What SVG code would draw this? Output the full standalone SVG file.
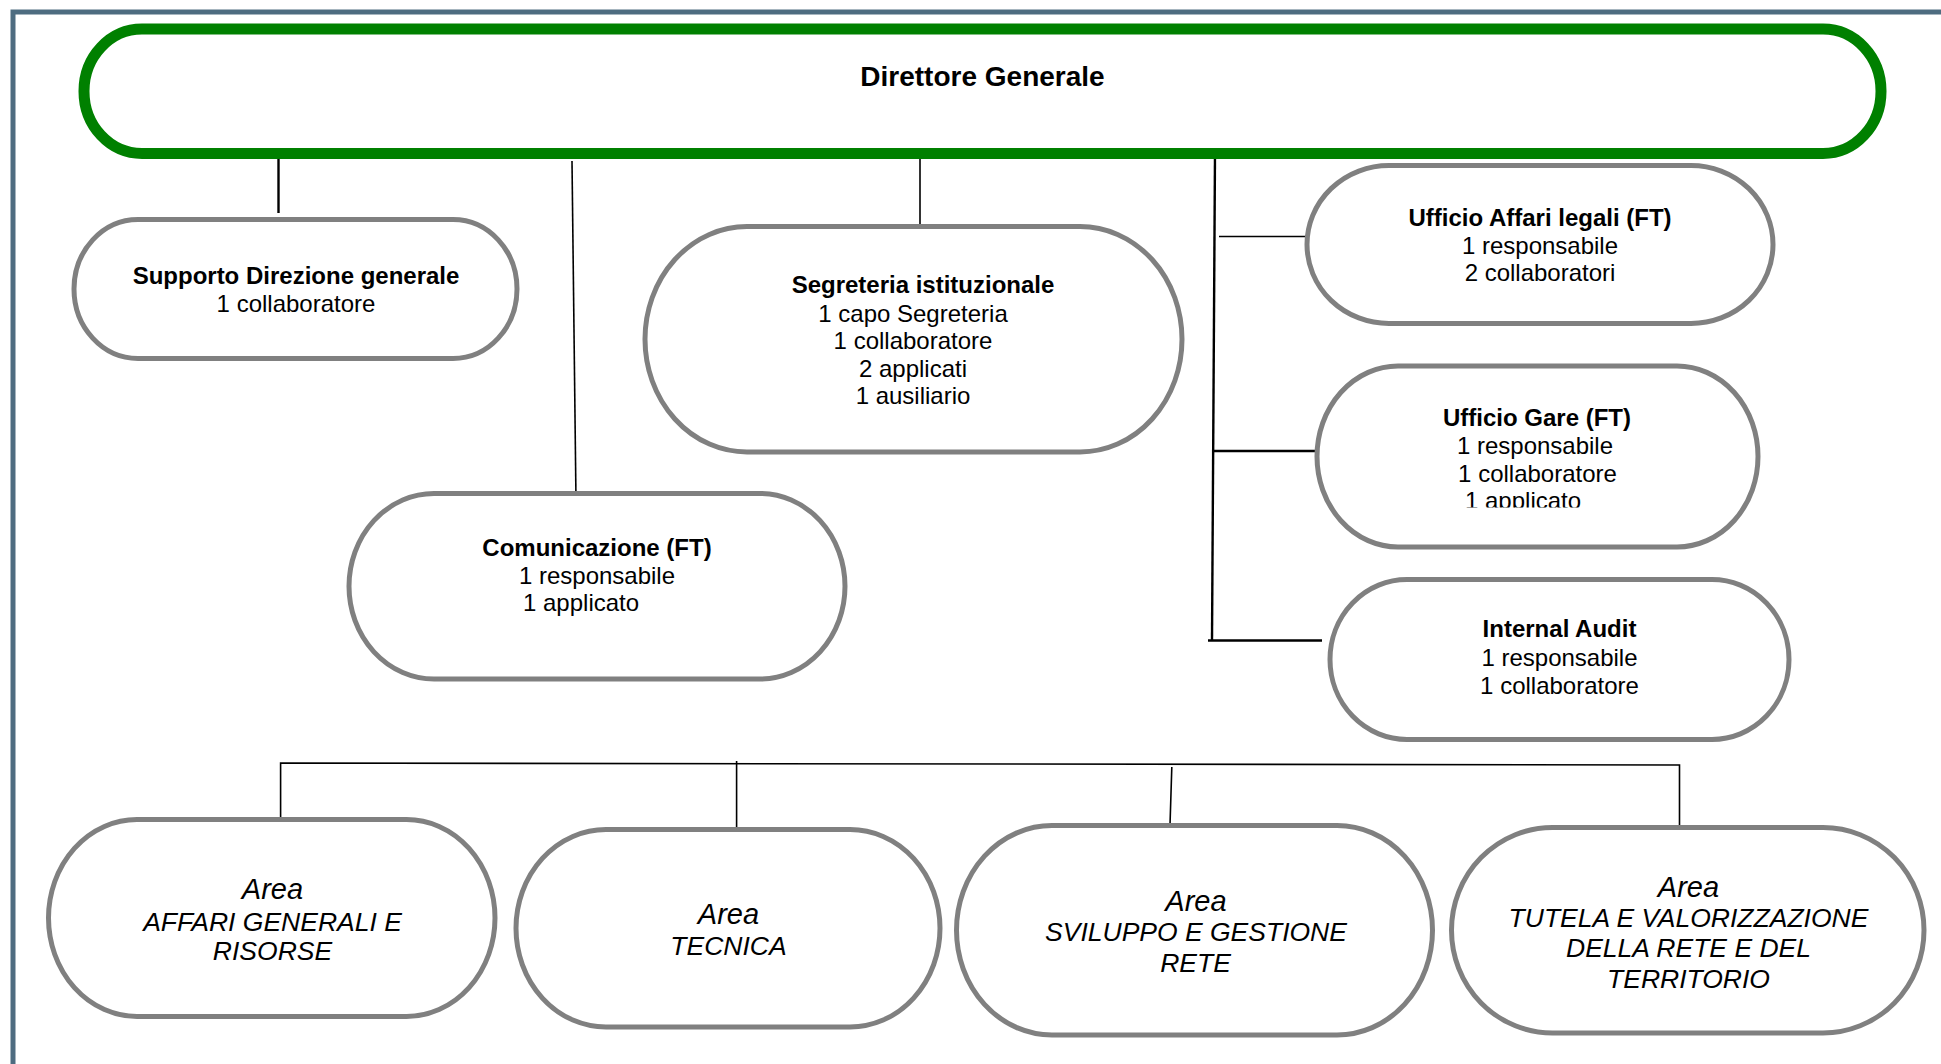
<svg xmlns="http://www.w3.org/2000/svg" width="1941" height="1064" viewBox="0 0 1941 1064">
<style>
.box{fill:#fff;stroke:#808080;stroke-width:5}
.dg{fill:#fff;stroke:#008000;stroke-width:11}
.ln{stroke:#000;stroke-width:1.6;fill:none}
.lnb{stroke:#000;stroke-width:2.4;fill:none}
text{font-family:"Liberation Sans",Arial,sans-serif;fill:#000;text-anchor:middle}
.t{font-size:28px;font-weight:bold}
.b{font-size:24px;font-weight:bold}
.r{font-size:24px}
.ar{font-size:29px;font-style:italic}
.ai{font-size:26.5px;font-style:italic}
</style>
<defs>
<clipPath id="clipGare"><rect x="1300" y="360" width="480" height="147.5"/></clipPath>
</defs>
<rect width="1941" height="1064" fill="#fff"/>
<path d="M13 1064 V12 H1941" fill="none" stroke="#4e6c80" stroke-width="5"/>

<g id="connectors">
<line class="lnb" x1="278.5" y1="157" x2="278.5" y2="213"/>
<line class="ln" x1="572" y1="161" x2="576" y2="501"/>
<line class="ln" x1="920" y1="154" x2="920" y2="228"/>
<line class="lnb" x1="1215" y1="153" x2="1212" y2="641"/>
<line class="ln" x1="1219" y1="236.5" x2="1307" y2="236.5"/>
<line class="lnb" x1="1213" y1="451" x2="1317" y2="451"/>
<line class="lnb" x1="1208" y1="640.5" x2="1322" y2="640.5"/>
<path class="ln" d="M280.6 823 V763 L1679.5 765 V827"/>
<line class="ln" x1="736.6" y1="761" x2="736.6" y2="827"/>
<line class="ln" x1="1171.8" y1="767" x2="1170" y2="825"/>
</g>

<g id="direttore">
<rect class="dg" x="84" y="29" width="1797" height="124.5" rx="58" ry="62"/>
<text class="t" x="982.5" y="86">Direttore Generale</text>
</g>

<g id="supporto">
<rect class="box" x="74" y="219.5" width="443" height="139" rx="64" ry="69.5"/>
<text class="b" x="296" y="283.5">Supporto Direzione generale</text>
<text class="r" x="296" y="311.5">1 collaboratore</text>
</g>

<g id="segreteria">
<rect class="box" x="645" y="226.5" width="537" height="225.5" rx="102" ry="112.75"/>
<text class="b" x="923" y="292.5">Segreteria istituzionale</text>
<text class="r" x="913" y="321.5">1 capo Segreteria</text>
<text class="r" x="913" y="348.5">1 collaboratore</text>
<text class="r" x="913" y="376.5">2 applicati</text>
<text class="r" x="913" y="403.5">1 ausiliario</text>
</g>

<g id="comunicazione">
<rect class="box" x="349" y="493.5" width="496" height="185.5" rx="85" ry="92.75"/>
<text class="b" x="597" y="555.5">Comunicazione (FT)</text>
<text class="r" x="597" y="583.5">1 responsabile</text>
<text class="r" x="523" y="610.5" style="text-anchor:start">1 applicato</text>
</g>

<g id="affari-legali">
<rect class="box" x="1307" y="165.5" width="466" height="158" rx="82" ry="79"/>
<text class="b" x="1540" y="225.5">Ufficio Affari legali (FT)</text>
<text class="r" x="1540" y="253.5">1 responsabile</text>
<text class="r" x="1540" y="281">2 collaboratori</text>
</g>

<g id="gare">
<rect class="box" x="1317" y="366" width="441" height="181" rx="81" ry="90.5"/>
<text class="b" x="1537" y="425.5">Ufficio Gare (FT)</text>
<text class="r" x="1535" y="453.5">1 responsabile</text>
<text class="r" x="1537.5" y="481.5">1 collaboratore</text>
<text class="r" x="1465" y="508.5" style="text-anchor:start" clip-path="url(#clipGare)">1 applicato</text>
</g>

<g id="internal-audit">
<rect class="box" x="1330" y="579.5" width="459" height="160" rx="77" ry="80"/>
<text class="b" x="1559.5" y="636.5">Internal Audit</text>
<text class="r" x="1559.5" y="665.5">1 responsabile</text>
<text class="r" x="1559.5" y="693.5">1 collaboratore</text>
</g>

<g id="area-affari-generali">
<rect class="box" x="48.5" y="819.5" width="446.5" height="197" rx="88.5" ry="98.5"/>
<text class="ar" x="272.5" y="899">Area</text>
<text class="ai" x="272.5" y="930.5">AFFARI GENERALI E</text>
<text class="ai" x="272.5" y="959.5">RISORSE</text>
</g>

<g id="area-tecnica">
<rect class="box" x="516" y="829.5" width="424" height="197.5" rx="90" ry="98.75"/>
<text class="ar" x="728.5" y="924">Area</text>
<text class="ai" x="728.5" y="954.5">TECNICA</text>
</g>

<g id="area-sviluppo">
<rect class="box" x="956.5" y="825.5" width="476" height="209.5" rx="95.5" ry="104.75"/>
<text class="ar" x="1196" y="911">Area</text>
<text class="ai" x="1196" y="941">SVILUPPO E GESTIONE</text>
<text class="ai" x="1195.5" y="972">RETE</text>
</g>

<g id="area-tutela">
<rect class="box" x="1451.5" y="827.5" width="472.5" height="205.5" rx="101" ry="102.75"/>
<text class="ar" x="1688.5" y="897">Area</text>
<text class="ai" x="1688.5" y="927">TUTELA E VALORIZZAZIONE</text>
<text class="ai" x="1688.5" y="957">DELLA RETE E DEL</text>
<text class="ai" x="1688.5" y="987.5">TERRITORIO</text>
</g>
</svg>
